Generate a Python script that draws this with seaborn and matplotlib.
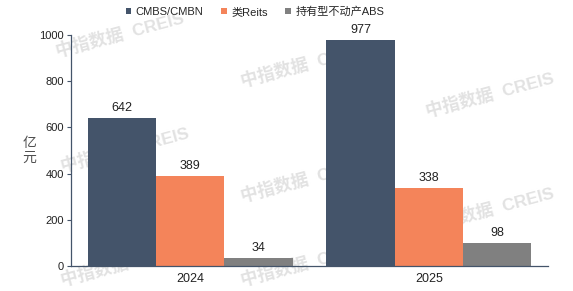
import matplotlib
matplotlib.use("Agg")
import matplotlib.pyplot as plt
import seaborn as sns
import pandas as pd

years = ["2024", "2025"]
series = ["CMBS/CMBN", "类Reits", "持有型不动产ABS"]
cmbs = [642, 977]
reits = [389, 338]
abs_vals = [34, 98]
colors = ["#44546A", "#F4845A", "#808080"]

rows = []
for s, vals in zip(series, [cmbs, reits, abs_vals]):
    for y, v in zip(years, vals):
        rows.append({"year": y, "series": s, "value": v})
df = pd.DataFrame(rows)

sns.set_theme(style="white")
plt.rcParams['font.family'] = ['Liberation Sans', 'Noto Sans CJK SC', 'DejaVu Sans']

W, H = 573, 291
fig = plt.figure(figsize=(W / 100, H / 100), dpi=100)
ax = fig.add_axes([71 / W, 1 - 266 / H, (548 - 71) / W, (266 - 35) / H])

# watermarks (pixel centres), drawn behind the bars
wm_pos = [(120, 35), (125, 150), (125, 264), (305, 65), (305, 180), (305, 264),
          (490, 95), (490, 210)]
for x, y in wm_pos:
    ax.text(x / W, 1 - y / H, "中指数据  CREIS", transform=fig.transFigure,
            rotation=15, color="#E2E2E2", fontsize=12.5, fontweight="bold",
            ha="center", va="center", zorder=0, clip_on=False)

sns.barplot(data=df, x="year", y="value", hue="series", palette=colors,
            width=0.86, gap=0, saturation=1, linewidth=0, ax=ax, zorder=2)

for cont in ax.containers:
    ax.bar_label(cont, fmt="%d", padding=3, fontsize=9, color="#222222")

ax.set_xlim(-0.5, 1.5)
ax.set_ylim(0, 1000)
ax.set_yticks([0, 200, 400, 600, 800, 1000])
ax.set_xlabel("")
ax.set_ylabel("亿\n元", rotation=0, fontsize=10, color="#505050", labelpad=7,
              va="center", linespacing=1.0)
ax.tick_params(axis="y", which="both", left=True, length=3, width=0.8, color="#44546A",
               labelsize=8, pad=2, labelcolor="#222222")
ax.tick_params(axis="x", bottom=False, length=0, labelsize=9, labelcolor="#222222", pad=5)
for side in ["top", "right"]:
    ax.spines[side].set_visible(False)
for side in ["left", "bottom"]:
    ax.spines[side].set_color("#44546A")
    ax.spines[side].set_linewidth(0.9)
ax.patch.set_alpha(0)

leg = ax.legend(loc="center", bbox_to_anchor=(255 / W, 1 - 12 / H), bbox_transform=fig.transFigure,
                ncol=3, frameon=False,
                fontsize=8, handlelength=0.5, handleheight=0.5, handletextpad=0.4,
                columnspacing=1.6, borderaxespad=0)

fig.savefig("out.png", dpi=100)
